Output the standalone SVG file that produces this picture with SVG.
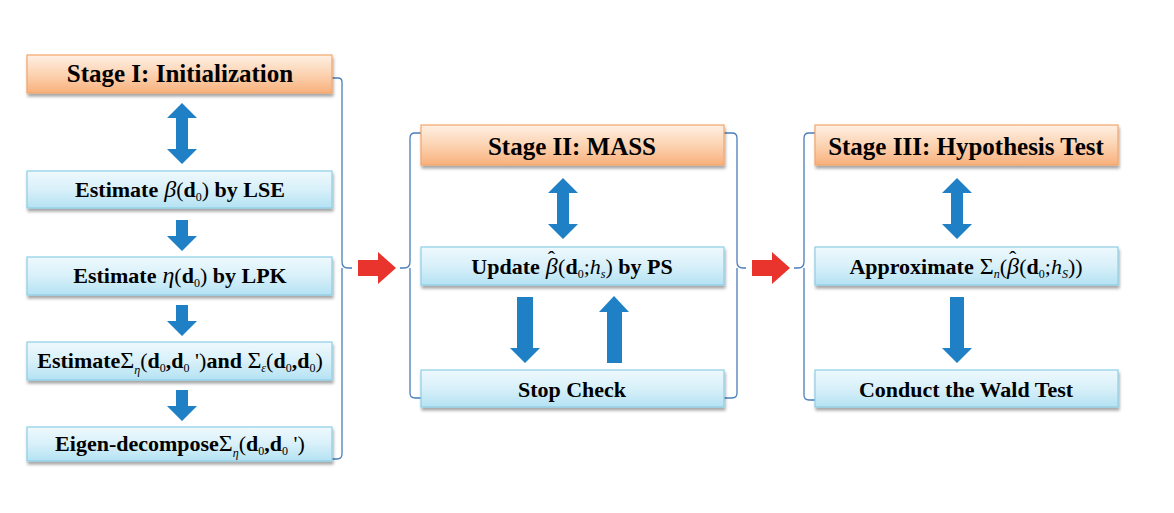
<svg xmlns="http://www.w3.org/2000/svg" width="1174" height="513" viewBox="0 0 1174 513">
<defs>
<linearGradient id="gOr" x1="0" y1="0" x2="0" y2="1">
<stop offset="0" stop-color="#FEF0E4"/><stop offset="0.5" stop-color="#FCD3B2"/><stop offset="1" stop-color="#F8B07C"/>
</linearGradient>
<linearGradient id="gBl" x1="0" y1="0" x2="0" y2="1">
<stop offset="0" stop-color="#EEF9FD"/><stop offset="0.5" stop-color="#D8F0F9"/><stop offset="1" stop-color="#B4E2F3"/>
</linearGradient>
<filter id="sh" x="-5%" y="-20%" width="110%" height="160%">
<feDropShadow dx="1" dy="3" stdDeviation="1.5" flood-color="#000" flood-opacity="0.35"/>
</filter>
</defs>
<style>
.or{fill:url(#gOr);stroke:#F3A56A;stroke-width:1.2;filter:url(#sh)}
.bl{fill:url(#gBl);stroke:#8CCFE6;stroke-width:1.2;filter:url(#sh)}
.t{font-family:"Liberation Serif","Times New Roman",serif;font-weight:bold;fill:#000;text-anchor:middle}
.h{font-size:25px}
.b{font-size:22px}
.m{font-weight:normal;font-style:italic}
.n{font-weight:normal}
.g{font-weight:normal;font-size:24px}
.s{font-size:12px}
.br{fill:none;stroke:#4A7EBB;stroke-width:1.3}
.ba{fill:#1F80C6}
.ra{fill:#E8342C}
</style>
<rect width="1174" height="513" fill="#fff"/>
<g id="connectors">
<path class="br" d="M332,78 H338 Q342,78 342,82 V262 Q342,268 348,268 H352 M342,268 V454 Q342,459 337,459 H332"/>
<path class="br" d="M421,133 H415 Q410,133 410,138 V262 Q410,268 404,268 H400 M410,268 V393 Q410,398 415,398 H421"/>
<path class="br" d="M724,133 H732 Q737,133 737,138 V262 Q737,268 743,268 H746 M737,268 V393 Q737,398 732,398 H724"/>
<path class="br" d="M815,133 H809 Q804,133 804,138 V262 Q804,268 798,268 H794 M804,268 V395 Q804,400 809,400 H815"/>
<polygon class="ra" points="358,260 378,260 378,252 396,268 378,284 378,276 358,276"/>
<polygon class="ra" points="752,260 772,260 772,252 790,268 772,284 772,276 752,276"/>
<polygon class="ba" points="182,103 197,118 188,118 188,149 197,149 182,164 167,149 176,149 176,118 167,118"/>
<polygon class="ba" points="176,220 188,220 188,236 197,236 182,251 167,236 176,236"/>
<polygon class="ba" points="176,305 188,305 188,321 197,321 182,336 167,321 176,321"/>
<polygon class="ba" points="176,390 188,390 188,406 197,406 182,421 167,406 176,406"/>
<polygon class="ba" points="563,178 578,193 569,193 569,224 578,224 563,239 548,224 557,224 557,193 548,193"/>
<polygon class="ba" points="517,297 533,297 533,348 540,348 525,363 510,348 517,348"/>
<polygon class="ba" points="614,296 629,312 622,312 622,363 607,363 607,312 599,312"/>
<polygon class="ba" points="957,178 972,193 963,193 963,224 972,224 957,239 942,224 951,224 951,193 942,193"/>
<polygon class="ba" points="950,297 964,297 964,348 972,348 957,363 942,348 950,348"/>
</g>
<g id="stage1">
<rect class="or" x="27" y="55" width="305" height="38"/>
<text class="t h" x="180" y="82">Stage I: Initialization</text>
</g>
<g id="estBeta">
<rect class="bl" x="27" y="171" width="305" height="37"/>
<text class="t b" x="180" y="197">Estimate<tspan class="m" font-size="24"> β</tspan><tspan class="n">(</tspan>d<tspan class="s n" dy="4">0</tspan><tspan class="n" dy="-4">)</tspan> by LSE</text>
</g>
<g id="estEta">
<rect class="bl" x="27" y="257" width="305" height="38"/>
<text class="t b" x="180" y="283">Estimate<tspan class="m" font-size="24"> η</tspan><tspan class="n">(</tspan>d<tspan class="s n" dy="4">0</tspan><tspan class="n" dy="-4">)</tspan> by LPK</text>
</g>
<g id="estSigma">
<rect class="bl" x="27" y="342" width="305" height="38"/>
<text class="t b" x="180" y="368">Estimate<tspan class="g">Σ</tspan><tspan class="s m" dy="6">η</tspan><tspan class="n" dy="-6">(</tspan>d<tspan class="s n" dy="4">0</tspan><tspan dy="-4">,d</tspan><tspan class="s n" dy="4">0</tspan><tspan class="n" dy="-4"> ')</tspan>and <tspan class="g">Σ</tspan><tspan class="s m" dy="4">ε</tspan><tspan class="n" dy="-4">(</tspan>d<tspan class="s n" dy="4">0</tspan><tspan dy="-4">,d</tspan><tspan class="s n" dy="4">0</tspan><tspan class="n" dy="-4">)</tspan></text>
</g>
<g id="eigen">
<rect class="bl" x="27" y="427" width="305" height="34"/>
<text class="t b" x="180" y="451">Eigen-decompose<tspan class="g">Σ</tspan><tspan class="s m" dy="6">η</tspan><tspan class="n" dy="-6">(</tspan>d<tspan class="s n" dy="4">0</tspan><tspan dy="-4">,d</tspan><tspan class="s n" dy="4">0</tspan><tspan class="n" dy="-4"> ')</tspan></text>
</g>
<g id="stage2">
<rect class="or" x="421" y="125" width="303" height="40"/>
<text class="t h" x="572" y="155">Stage II: MASS</text>
</g>
<g id="update">
<rect class="bl" x="421" y="247" width="303" height="38"/>
<text class="t b" x="572" y="274">Update<tspan class="m" font-size="24"> β</tspan><tspan class="n" dx="-10" dy="-8">ˆ</tspan><tspan class="n" dx="3" dy="8">(</tspan>d<tspan class="s n" dy="4">0</tspan><tspan class="n" dy="-4">;</tspan><tspan class="m">h</tspan><tspan class="s m" dy="4">s</tspan><tspan class="n" dy="-4">)</tspan> by PS</text>
</g>
<g id="stopCheck">
<rect class="bl" x="421" y="370" width="303" height="37"/>
<text class="t b" x="572" y="397">Stop Check</text>
</g>
<g id="stage3">
<rect class="or" x="815" y="125" width="303" height="40"/>
<text class="t h" x="966" y="155">Stage III: Hypothesis Test</text>
</g>
<g id="approx">
<rect class="bl" x="815" y="247" width="303" height="38"/>
<text class="t b" x="966" y="274">Approximate<tspan class="g"> Σ</tspan><tspan class="s m" dy="4">n</tspan><tspan class="n" dy="-4">(</tspan><tspan class="m" font-size="24">β</tspan><tspan class="n" dx="-10" dy="-8">ˆ</tspan><tspan class="n" dx="3" dy="8">(</tspan>d<tspan class="s n" dy="4">0</tspan><tspan class="n" dy="-4">;</tspan><tspan class="m">h</tspan><tspan class="s m" dy="4">S</tspan><tspan class="n" dy="-4">))</tspan></text>
</g>
<g id="wald">
<rect class="bl" x="815" y="370" width="303" height="37"/>
<text class="t b" x="966" y="397">Conduct the Wald Test</text>
</g>
</svg>
